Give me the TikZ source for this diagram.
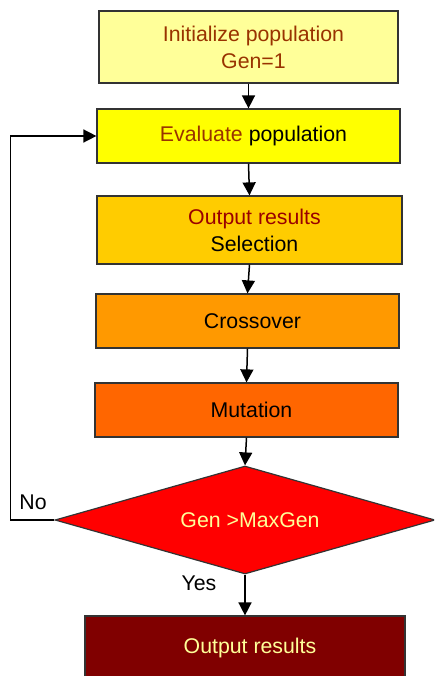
\documentclass[tikz,border=0pt]{standalone}
\usepackage{fontspec}
\setmainfont{Liberation Sans}
\usetikzlibrary{shapes.geometric,arrows.meta}
\definecolor{c1}{HTML}{FFFF99}
\definecolor{c2}{HTML}{FFFF00}
\definecolor{c3}{HTML}{FFCC00}
\definecolor{c4}{HTML}{FF9900}
\definecolor{c5}{HTML}{FF6600}
\definecolor{c6}{HTML}{FF0000}
\definecolor{c7}{HTML}{800000}
\definecolor{brn}{HTML}{993300}
\definecolor{drd}{HTML}{990000}
\definecolor{pale}{HTML}{FFFF99}
\definecolor{edge}{HTML}{333333}
\newcommand{\rs}{\hspace*{10pt}}
\begin{document}
\begin{tikzpicture}[x=1pt,y=-1pt,
  every node/.style={font=\fontsize{21.3}{27}\selectfont},
  box/.style={draw=edge,line width=1.2pt,rectangle,inner sep=0pt,align=center},
  arr/.style={line width=1.5pt,-{Triangle[length=13pt,width=13pt]}}]
\useasboundingbox (0,0) rectangle (434,676);
\clip (0,0) rectangle (434,676);
\node[box,fill=c1,minimum width=299pt,minimum height=72pt,text=brn] (b1) at (248.5,47) {\rs Initialize population\\\rs Gen=1};
\node[box,fill=c2,minimum width=303pt,minimum height=54pt] (b2) at (248.5,136) {\rs\textcolor{brn}{Evaluate} population};
\node[box,fill=c3,minimum width=305pt,minimum height=68pt] (b3) at (249.5,230) {\rs\textcolor{drd}{Output results}\\\rs Selection};
\node[box,fill=c4,minimum width=303pt,minimum height=54pt] (b4) at (247.5,321) {\rs Crossover};
\node[box,fill=c5,minimum width=303pt,minimum height=54pt] (b5) at (246.5,410) {\rs Mutation};
\node[draw=edge,line width=1.2pt,diamond,shape aspect=3.5,inner sep=0pt,fill=c6,minimum width=380pt,minimum height=108pt,text=pale] (d) at (245,520) {\rs Gen >MaxGen};
\node[box,fill=c7,minimum width=320pt,minimum height=64pt,text=pale] (b6) at (245,648) {\rs Output results};
\node (no) at (33,502) {No};
\node (yes) at (199,583) {Yes};
\draw[arr] (b1.south) -- (b2.north);
\draw[arr] (b2.south) -- (b3.north);
\draw[arr] (b3.south) -- (b4.north);
\draw[arr] (b4.south) -- (b5.north);
\draw[arr] (b5.south) -- (d.north);
\draw[arr] (d.south) -- (b6.north);
\draw[arr] (d.west) -- ++(-44,0) |- (b2.west);
\end{tikzpicture}
\end{document}
